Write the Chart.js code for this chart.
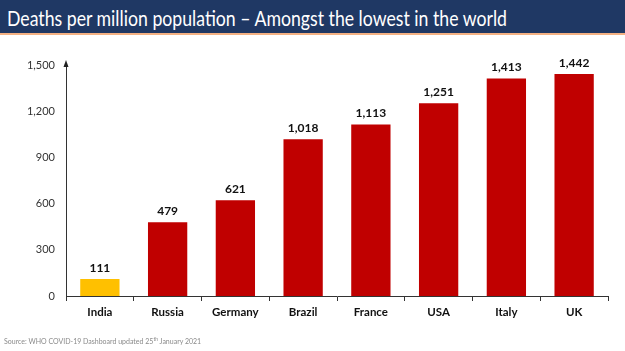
<!DOCTYPE html>
<html>
<head>
<meta charset="utf-8">
<script src="https://cdn.jsdelivr.net/npm/chart.js"></script>
<style>
  body { margin:0; width:625px; height:351px; background:#fff; overflow:hidden; position:relative; font-family:Lato, sans-serif; }
  #title_report { position:absolute; left:0; top:0; width:625px; height:35px; background:#1F3864; border-bottom:2px solid #F4B183;
    color:#fff; font-size:22px; line-height:35px; padding-left:7px; box-sizing:border-box; white-space:nowrap; }
  #title_text { display:inline-block; transform-origin:0 50%; }
  #chartBox { position:absolute; left:0; top:38px; width:625px; height:300px; }
  #source { position:absolute; left:4px; top:336px; font-size:7px; color:#8a8a8a; }
  #source sup { font-size:5px; }
</style>
</head>
<body>
<div id="title_report"><span id="title_text">Deaths per million population – Amongst the lowest in the world</span></div>
<div id="chartBox"><canvas id="graphicFirst" width="625" height="300"></canvas></div>
<div id="source">Source: WHO COVID-19 Dashboard updated 25<sup>th</sup> January 2021</div>
<script>
// Deaths per million - bar chart
const countries = ['India', 'Russia', 'Germany', 'Brazil', 'France', 'USA', 'Italy', 'UK'];
const deaths = [111, 479, 621, 1018, 1113, 1251, 1413, 1442];
const yTicks = [0, 300, 600, 900, 1200, 1500];

const barColors = countries.map(c => c === 'India' ? '#FFC000' : '#C00000');

//---squeeze title to the width it has in the slide
let titleSpan = document.getElementById('title_text');
titleSpan.style.transform = 'scaleX(' + (500 / titleSpan.offsetWidth) + ')';

//---labels above bars + arrow on y axis
const barLabels = {
  id: 'barLabels',
  afterDatasetsDraw(chart) {
    const ctx = chart.ctx;
    const meta = chart.getDatasetMeta(0);
    ctx.save();
    ctx.font = 'bold 12px Lato, sans-serif';
    ctx.fillStyle = '#111';
    ctx.textAlign = 'center';
    ctx.textBaseline = 'bottom';
    meta.data.forEach((bar, i) => {
      ctx.fillText(deaths[i].toLocaleString('en-US'), bar.x, bar.y - 5);
    });
    // arrow head
    const x = chart.scales.x.left;
    const top = chart.scales.y.top;
    ctx.fillStyle = '#222';
    ctx.beginPath();
    ctx.moveTo(x, top - 5);
    ctx.lineTo(x - 2.5, top + 2);
    ctx.lineTo(x + 2.5, top + 2);
    ctx.closePath();
    ctx.fill();
    ctx.restore();
  }
};

let chart1;
function getDrawGraphicFirst(){
  var ctx = document.getElementById('graphicFirst').getContext('2d');
  if (chart1) {
    chart1.destroy();
  }
  chart1 = new Chart(ctx, {
    type: 'bar',
    data: {
      labels: countries,
      datasets: [{
        data: deaths,
        backgroundColor: barColors,
        barPercentage: 0.58,
        categoryPercentage: 1.0,
      }]
    },
    options: {
      responsive: false,
      animation: false,
      layout: { padding: { top: 27, right: 17, left: 0, bottom: 0 } },
      plugins: { legend: { display: false }, tooltip: { enabled: false } },
      scales: {
        x: {
          afterFit(scale) { scale.height = 42; },
          border: { display: true, color: '#333', width: 1 },
          grid: { offset: true, drawOnChartArea: false, drawTicks: true, tickLength: 5, color: '#333' },
          ticks: { color: '#111', font: { family: 'Lato, sans-serif', size: 11.5, weight: 'bold' }, padding: 4 }
        },
        y: {
          min: 0,
          max: 1500,
          afterFit(scale) { scale.width = 66; },
          afterBuildTicks(scale) { scale.ticks = yTicks.map(v => ({ value: v })); },
          border: { display: true, color: '#333', width: 1 },
          grid: { display: false, drawTicks: false },
          ticks: {
            color: '#333',
            font: { family: 'Lato, sans-serif', size: 11 },
            padding: 11,
            callback: v => v.toLocaleString('en-US')
          }
        }
      }
    },
    plugins: [barLabels]
  });
}

getDrawGraphicFirst();
</script>
</body>
</html>
